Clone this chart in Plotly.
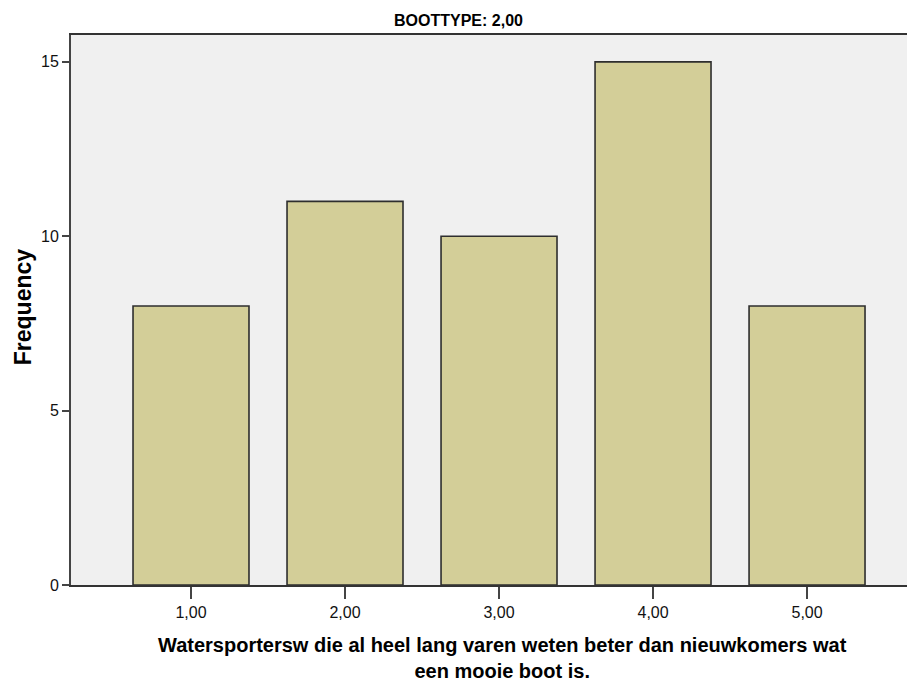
import plotly.graph_objects as go

categories = [1, 2, 3, 4, 5]
tick_labels = ["1,00", "2,00", "3,00", "4,00", "5,00"]
frequencies = [8, 11, 10, 15, 8]
y_ticks = [0, 5, 10, 15]

title_text = "BOOTTYPE: 2,00"
x_title_lines = ["Watersportersw die al heel lang varen weten beter dan nieuwkomers wat",
                 "een mooie boot is."]
y_title = "Frequency"

FONT = "Liberation Sans, Arial, sans-serif"

fig = go.Figure(
    go.Bar(
        x=categories,
        y=frequencies,
        width=0.753,
        marker=dict(color="#D3CE98", line=dict(color="#2E2E2E", width=1.6)),
        hoverinfo="x+y",
    )
)

annotations = [
    dict(text="<b>" + title_text + "</b>", x=0.4635, y=1, xref="paper", yref="paper",
         yanchor="middle", yshift=15, showarrow=False,
         font=dict(family=FONT, size=16, color="#000")),
    dict(text="<b>" + y_title + "</b>", x=0, y=0.505, xref="paper", yref="paper",
         xanchor="center", yanchor="middle", xshift=-48, textangle=-90, showarrow=False,
         font=dict(family=FONT, size=23, color="#000")),
    dict(text="<b>" + "<br>".join(x_title_lines) + "</b>", x=0.516, y=0,
         xref="paper", yref="paper", yanchor="middle", yshift=-73, showarrow=False,
         align="center", font=dict(family=FONT, size=20, color="#000")),
]

fig.update_layout(
    width=899,
    height=674,
    margin=dict(l=63, r=0, t=27, b=97),
    paper_bgcolor="white",
    plot_bgcolor="#F0F0F0",
    showlegend=False,
    font=dict(family=FONT, color="#000000", size=16),
    annotations=annotations,
)

fig.update_xaxes(
    range=[0.2208, 5.649],
    tickvals=categories,
    ticktext=tick_labels,
    ticks="outside",
    ticklen=12,
    tickwidth=2,
    tickcolor="#444",
    showline=True,
    linewidth=2,
    linecolor="#333",
    mirror=True,
    showgrid=False,
    zeroline=False,
    tickfont=dict(family=FONT, size=16, color="#111"),
)

fig.update_yaxes(
    range=[0, 15.77],
    tickvals=y_ticks,
    ticks="outside",
    ticklen=7,
    tickwidth=2,
    tickcolor="#444",
    showline=True,
    linewidth=2,
    linecolor="#444",
    showgrid=False,
    zeroline=False,
    tickfont=dict(family=FONT, size=16, color="#111"),
)

fig.write_html("out.html")
